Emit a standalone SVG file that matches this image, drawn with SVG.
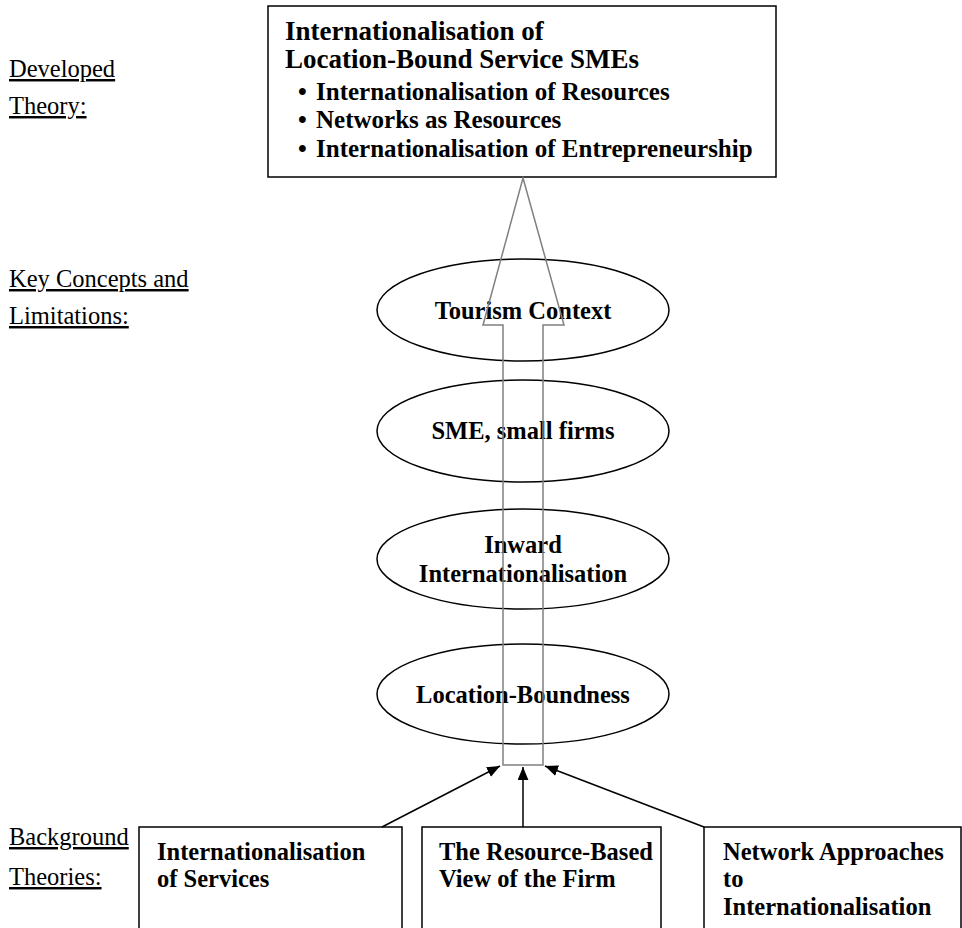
<svg xmlns="http://www.w3.org/2000/svg" width="962" height="928" viewBox="0 0 962 928">
  <style>
    .lbl { font-family: "Liberation Serif", "Times New Roman", serif; font-size: 24.5px; fill: #000; text-decoration: underline; }
    .bold { font-family: "Liberation Serif", "Times New Roman", serif; font-weight: bold; fill: #000; font-size: 24.5px; }
    .head { font-size: 27px; }
    .bul { font-size: 25px; }
    .box { fill: #fff; stroke: #000; stroke-width: 1.5; }
    .ell { fill: #fff; stroke: #000; stroke-width: 1.5; }
    .conn { stroke: #000; stroke-width: 1.5; fill: none; }
    .flow { fill: none; stroke: #808080; stroke-width: 1.5; }
  </style>
  <defs>
    <marker id="tri" viewBox="0 0 12 10" refX="12" refY="5" markerWidth="13" markerHeight="11" markerUnits="userSpaceOnUse" orient="auto">
      <path d="M0,0 L12,5 L0,10 z" fill="#000"/>
    </marker>
  </defs>
  <rect width="962" height="928" fill="#fff"/>

  <!-- level labels -->
  <g id="labels">
    <text class="lbl" x="9" y="77">Developed</text>
    <text class="lbl" x="9" y="114">Theory:</text>
    <text class="lbl" x="9" y="287">Key Concepts and</text>
    <text class="lbl" x="9" y="324">Limitations:</text>
    <text class="lbl" x="9" y="845">Background</text>
    <text class="lbl" x="9" y="885">Theories:</text>
  </g>

  <!-- developed theory -->
  <g id="theory">
    <rect class="box" x="268" y="6" width="508" height="171"/>
    <text class="bold head" x="285" y="40">Internationalisation of</text>
    <text class="bold head" x="285" y="68">Location-Bound Service SMEs</text>
    <text class="bold bul" x="298" y="100">•</text>
    <text class="bold bul" x="316" y="100">Internationalisation of Resources</text>
    <text class="bold bul" x="298" y="128">•</text>
    <text class="bold bul" x="316" y="128">Networks as Resources</text>
    <text class="bold bul" x="298" y="157">•</text>
    <text class="bold bul" x="316" y="157">Internationalisation of Entrepreneurship</text>
  </g>

  <!-- key concepts and limitations -->
  <g id="tourism">
    <ellipse class="ell" cx="523" cy="310" rx="146" ry="51"/>
    <text class="bold" x="523" y="319" text-anchor="middle">Tourism Context</text>
  </g>
  <g id="sme">
    <ellipse class="ell" cx="523" cy="431" rx="146" ry="51"/>
    <text class="bold" x="523" y="439" text-anchor="middle">SME, small firms</text>
  </g>
  <g id="inward">
    <ellipse class="ell" cx="523" cy="559" rx="146" ry="50"/>
    <text class="bold" x="523" y="553" text-anchor="middle">Inward</text>
    <text class="bold" x="523" y="582" text-anchor="middle">Internationalisation</text>
  </g>
  <g id="location">
    <ellipse class="ell" cx="523" cy="694" rx="146" ry="50"/>
    <text class="bold" x="523" y="703" text-anchor="middle">Location-Boundness</text>
  </g>

  <!-- background theories (boxes run off the lower edge) -->
  <g id="services">
    <path class="conn" d="M139,929 V827 H402 V929"/>
    <text class="bold" x="157" y="860">Internationalisation</text>
    <text class="bold" x="157" y="887">of Services</text>
  </g>
  <g id="rbv">
    <path class="conn" d="M422,929 V827 H661 V929"/>
    <text class="bold" x="439" y="860">The Resource-Based</text>
    <text class="bold" x="439" y="887">View of the Firm</text>
  </g>
  <g id="network">
    <path class="conn" d="M704,929 V827 H961 V929"/>
    <text class="bold" x="723" y="860">Network Approaches</text>
    <text class="bold" x="723" y="887">to</text>
    <text class="bold" x="723" y="915">Internationalisation</text>
  </g>

  <!-- connectors: hollow flow arrow and three feeder arrows -->
  <g id="connectors">
    <polygon class="flow" points="523,178 564,325 543,325 543,765 503,765 503,325 483,325"/>
    <line class="conn" x1="382" y1="827" x2="500" y2="766" marker-end="url(#tri)"/>
    <line class="conn" x1="523" y1="827" x2="523" y2="767" marker-end="url(#tri)"/>
    <line class="conn" x1="704" y1="827" x2="545" y2="766" marker-end="url(#tri)"/>
  </g>
</svg>
